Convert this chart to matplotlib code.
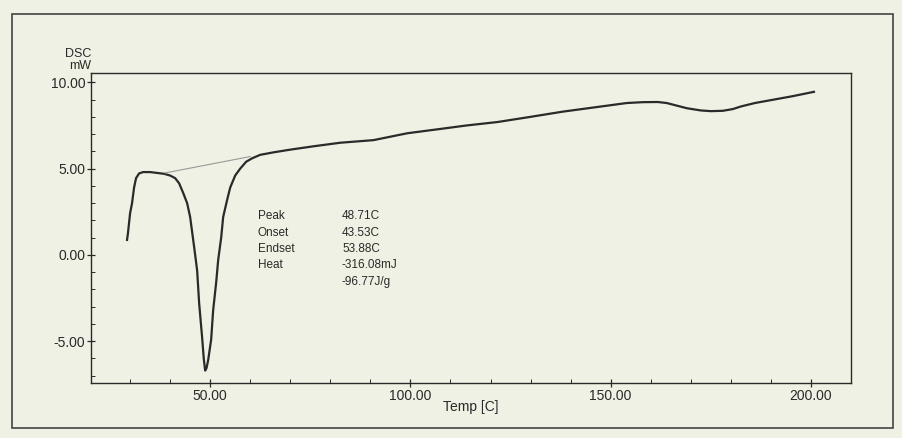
import matplotlib.pyplot as plt
from matplotlib.ticker import MultipleLocator, FormatStrFormatter
from matplotlib.patches import Rectangle

# DSC trace
temp = [29.25, 29.5, 30.0, 30.5, 31.0, 31.5, 32.25, 33.25, 35.0, 36.75,
        38.5, 40.0, 41.25, 42.25, 43.25, 44.25, 45.0, 46.0, 46.75, 47.25,
        48.0, 48.4, 48.75, 49.1, 49.5, 50.25, 50.75, 51.5, 52.0, 52.75,
        53.25, 54.25, 55.0, 56.25, 57.5, 59.0, 60.5, 62.5, 66.0, 70.0,
        76.0, 82.5, 90.75, 99.25, 107.5, 114.0, 121.75, 130.0, 138.0, 146.0,
        154.0, 158.0, 161.75, 164.0, 166.5, 169.0, 172.5, 175.0, 178.0, 180.5,
        182.5, 186.0, 190.75, 195.5, 200.75]
dsc = [0.87, 1.3, 2.4, 3.0, 3.9, 4.45, 4.72, 4.8, 4.8, 4.75,
       4.7, 4.6, 4.45, 4.15, 3.6, 3.0, 2.2, 0.46, -0.9, -2.8,
       -4.8, -6.0, -6.7, -6.55, -6.1, -4.9, -3.2, -1.6, -0.3, 1.0,
       2.2, 3.2, 3.9, 4.6, 5.0, 5.4, 5.6, 5.8, 5.95, 6.1,
       6.3, 6.5, 6.65, 7.05, 7.3, 7.5, 7.7, 8.0, 8.3, 8.55,
       8.8, 8.85, 8.86, 8.8, 8.65, 8.5, 8.37, 8.33, 8.35, 8.45,
       8.6, 8.8, 9.0, 9.2, 9.45]

# integration baseline
base_t = [38.75, 60.0]
base_v = [4.75, 5.7]

ann_labels = ['Peak', 'Onset', 'Endset', 'Heat', '']
ann_values = ['48.71C', '43.53C', '53.88C', '-316.08mJ', '-96.77J/g']

x_ticks = [50, 100, 150, 200]
y_ticks = [-5, 0, 5, 10]

paper = '#eef1e3'
ink = '#2a2a2a'

plt.rcParams['font.family'] = ['Liberation Sans', 'DejaVu Sans']

fig = plt.figure(figsize=(9.03, 4.38), dpi=100, facecolor=paper)
ax = fig.add_axes([91 / 903, 1 - 383 / 438, (851 - 91) / 903, (383 - 73) / 438])
ax.set_facecolor(paper)

# outer printed frame
fig.patches.append(Rectangle((12 / 903, 1 - 428 / 438), (893 - 12) / 903, (428 - 14) / 438,
                             transform=fig.transFigure, fill=False, edgecolor='#444444', lw=1.2))

ax.plot(temp, dsc, color=ink, lw=1.6, solid_joinstyle='round')
ax.plot(base_t, base_v, color='#9a9a9a', lw=0.8)

ax.set_xlim(20.25, 210)
ax.set_ylim(-7.42, 10.54)
ax.set_xticks(x_ticks)
ax.set_yticks(y_ticks)
ax.xaxis.set_minor_locator(MultipleLocator(10))
ax.yaxis.set_minor_locator(MultipleLocator(1))
ax.xaxis.set_major_formatter(FormatStrFormatter('%.2f'))
ax.yaxis.set_major_formatter(FormatStrFormatter('%.2f'))
ax.tick_params(which='major', direction='inout', length=6, width=0.9, colors=ink,
               labelsize=10, pad=1)
ax.tick_params(which='minor', direction='in', length=3, width=0.7, colors=ink)
for s in ax.spines.values():
    s.set_color(ink)
    s.set_linewidth(1.0)

ax.set_xlabel('Temp [C]', fontsize=10, color=ink, labelpad=-2)
fig.text(91 / 903, 1 - 54 / 438, 'DSC', ha='right', va='center', fontsize=9, color=ink)
fig.text(91 / 903, 1 - 66 / 438, 'mW', ha='right', va='center', fontsize=9, color=ink)

for i, (lab, val) in enumerate(zip(ann_labels, ann_values)):
    y = 1 - (216 + i * 16.5) / 438
    fig.text(258 / 903, y, lab, ha='left', va='center', fontsize=8.5, color=ink)
    fig.text(342 / 903, y, val, ha='left', va='center', fontsize=8.5, color=ink)

fig.savefig('out.png', dpi=100, facecolor=paper)
